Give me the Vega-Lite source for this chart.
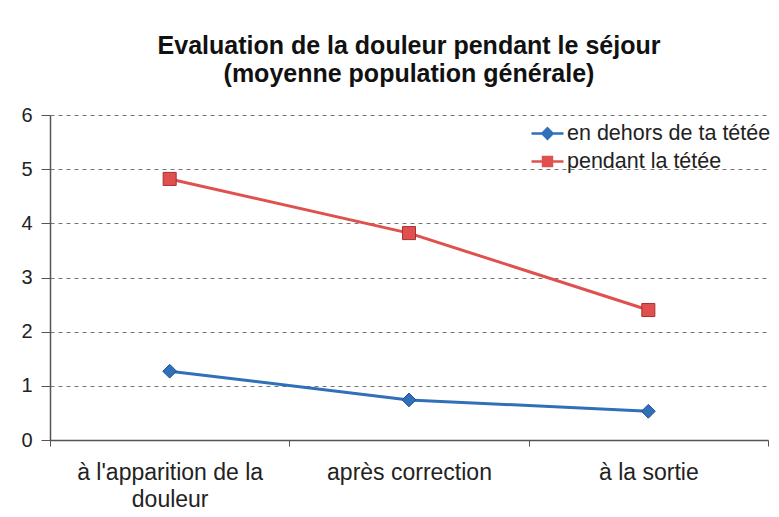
{
  "$schema": "https://vega.github.io/schema/vega-lite/v6.json",
  "autosize": "none",
  "width": 718,
  "height": 325,
  "padding": {"left": 50, "top": 115, "right": 11, "bottom": 77},
  "background": "white",
  "title": {
    "text": ["Evaluation de la douleur pendant le séjour", "(moyenne population générale)"],
    "font": "Liberation Sans",
    "fontSize": 25,
    "fontWeight": "bold",
    "color": "#111",
    "lineHeight": 28,
    "anchor": "middle",
    "offset": 18
  },
  "data": {
    "values": [
      {"moment": "à l'apparition de la douleur", "series": "en dehors de ta tétée", "value": 1.27},
      {"moment": "après correction", "series": "en dehors de ta tétée", "value": 0.74},
      {"moment": "à la sortie", "series": "en dehors de ta tétée", "value": 0.53},
      {"moment": "à l'apparition de la douleur", "series": "pendant la tétée", "value": 4.82},
      {"moment": "après correction", "series": "pendant la tétée", "value": 3.82},
      {"moment": "à la sortie", "series": "pendant la tétée", "value": 2.40}
    ]
  },
  "encoding": {
    "x": {
      "field": "moment",
      "type": "nominal",
      "sort": ["à l'apparition de la douleur", "après correction", "à la sortie"],
      "bandPosition": 0.5,
      "scale": {"type": "band", "paddingInner": 0, "paddingOuter": 0},
      "axis": {
        "title": null,
        "labelAngle": 0,
        "labelFont": "Liberation Sans",
        "labelFontSize": 23,
        "labelColor": "#222",
        "labelLineHeight": 27,
        "labelPadding": 15,
        "labelLimit": 0,
        "labelExpr": "datum.value == \"à l'apparition de la douleur\" ? [\"à l'apparition de la\", 'douleur'] : datum.value",
        "tickBand": "extent",
        "tickSize": 6,
        "tickColor": "#555",
        "domainColor": "#555",
        "domainWidth": 1.5,
        "grid": false
      }
    },
    "y": {
      "field": "value",
      "type": "quantitative",
      "scale": {"domain": [0, 6]},
      "axis": {
        "title": null,
        "values": [0, 1, 2, 3, 4, 5, 6],
        "labelFont": "Liberation Sans",
        "labelFontSize": 20,
        "labelColor": "#222",
        "labelPadding": 9,
        "tickSize": 9,
        "tickColor": "#555",
        "domainColor": "#555",
        "domainWidth": 1.5,
        "grid": true,
        "gridColor": "#777",
        "gridDash": [4, 4],
        "gridWidth": 1
      }
    },
    "color": {
      "field": "series",
      "type": "nominal",
      "scale": {"domain": ["en dehors de ta tétée", "pendant la tétée"], "range": ["#2f70b8", "#e0504e"]},
      "legend": {
        "title": null,
        "orient": "none",
        "legendX": 480,
        "legendY": 1,
        "labelFont": "Liberation Sans",
        "labelFontSize": 21.5,
        "labelColor": "#222",
        "labelLimit": 0,
        "symbolSize": 1024,
        "rowPadding": -4,
        "labelOffset": 2,
        "encode": {
          "symbols": {
            "update": {
              "shape": {"signal": "datum.value === 'en dehors de ta tétée' ? 'M-1,0H1M0,-0.32L0.32,0L0,0.32L-0.32,0Z' : 'M-1,0H1M-0.28,-0.28H0.28V0.28H-0.28Z'"},
              "fill": {"signal": "datum.value === 'en dehors de ta tétée' ? '#2f70b8' : '#e0504e'"},
              "stroke": {"signal": "datum.value === 'en dehors de ta tétée' ? '#2f70b8' : '#e0504e'"},
              "strokeWidth": {"value": 2.5},
              "size": {"value": 1024},
              "opacity": {"value": 1}
            }
          }
        }
      }
    }
  },
  "layer": [
    {
      "mark": {"type": "line", "strokeWidth": 3}
    },
    {
      "transform": [{"filter": "datum.series === 'en dehors de ta tétée'"}],
      "mark": {"type": "point", "shape": "diamond", "filled": true, "size": 190, "opacity": 1, "stroke": "#1f4f90", "strokeWidth": 1}
    },
    {
      "transform": [{"filter": "datum.series === 'pendant la tétée'"}],
      "mark": {"type": "point", "shape": "square", "filled": true, "size": 170, "opacity": 1, "stroke": "#a83030", "strokeWidth": 1}
    }
  ],
  "config": {
    "view": {"stroke": null}
  }
}
